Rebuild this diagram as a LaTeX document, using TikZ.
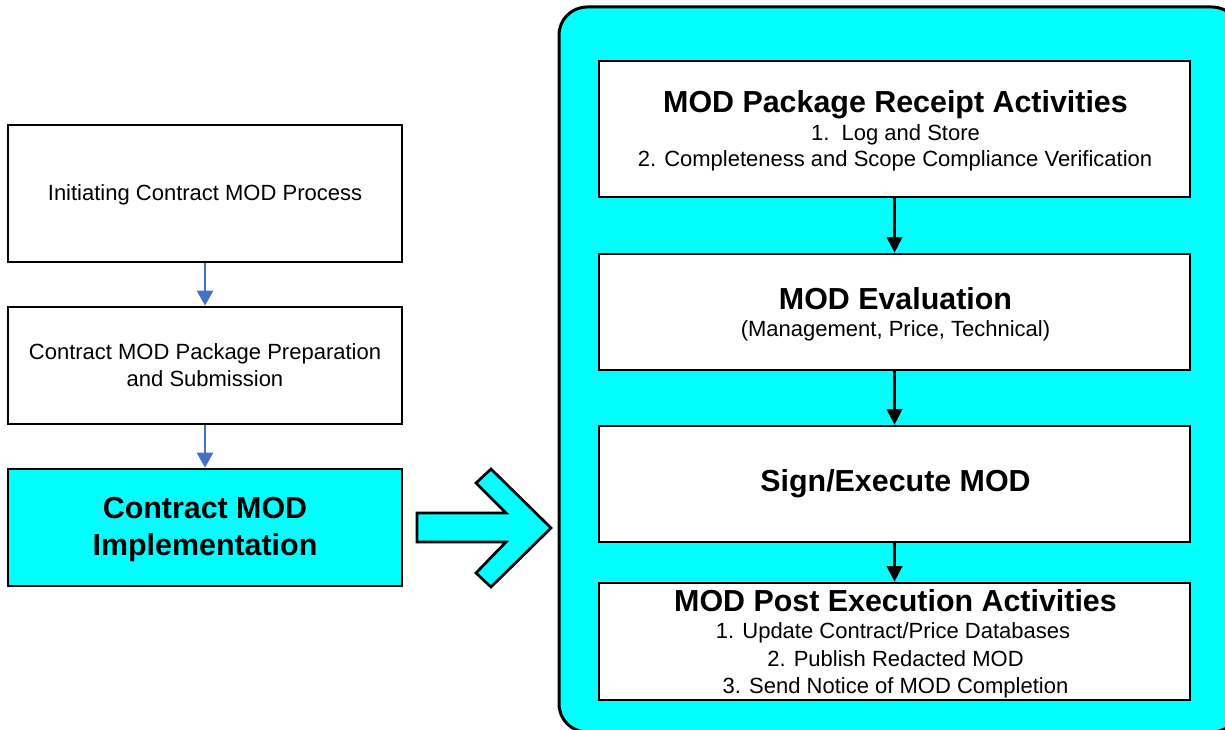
\documentclass[tikz,border=0pt]{standalone}
\usepackage{fontspec}
\setmainfont{Liberation Sans}
\usetikzlibrary{arrows.meta}
\definecolor{aqua}{RGB}{0,255,255}
\definecolor{bluearrow}{RGB}{68,114,196}
\begin{document}
\begin{tikzpicture}[x=1pt,y=-1pt,
  lbox/.style={draw=black,line width=2.7pt,minimum width=394pt,inner sep=0pt,fill=white},
  rbox/.style={draw=black,line width=2.7pt,minimum width=591pt,inner sep=0pt,fill=white},
  panelbox/.style={draw=black,line width=3pt,fill=aqua,rounded corners=28pt,inner sep=0pt,minimum width=681pt,minimum height=725pt},
  reg/.style={anchor=base,inner sep=0pt,font=\fontsize{22}{26}\selectfont},
  bld/.style={anchor=base,inner sep=0pt,font=\fontsize{30.4}{36}\selectfont\bfseries},
  bluearr/.style={draw=bluearrow,line width=2.8pt,-{Triangle[length=15pt,width=16pt]}},
  blackarr/.style={draw=black,line width=2.2pt,-{Triangle[length=15.5pt,width=15.5pt]}},
  bigarrow/.style={draw=black,fill=aqua,line width=2.7pt,line join=miter}
]
\useasboundingbox (0,0) rectangle (1225,730);

% right panel
\node[panelbox] (P) at (899.5,369.5) {};

% left column boxes
\node[lbox,minimum height=137pt] (L1) at (205,193.5) {};
\node[lbox,minimum height=117pt] (L2) at (205,365.5) {};
\node[lbox,minimum height=117pt,fill=aqua] (L3) at (205,527.5) {};

\node[reg] (t1) at (205,200.7) {Initiating Contract MOD Process};
\node[reg] (t2a) at (205,359.3) {Contract MOD Package Preparation};
\node[reg] (t2b) at (205,386) {and Submission};
\node[bld] (t3a) at (205,518.3) {Contract MOD};
\node[bld] (t3b) at (205,555) {Implementation};

\draw[bluearr] (L1.south) -- (L2.north);
\draw[bluearr] (L2.south) -- (L3.north);

% right boxes
\node[rbox,minimum height=136pt] (A) at (894.5,129) {};
\node[rbox,minimum height=116pt] (B) at (894.5,312) {};
\node[rbox,minimum height=116pt] (C) at (894.5,484) {};
\node[rbox,minimum height=117pt] (D) at (894.5,641.5) {};

\node[bld] (ta) at (895.5,112.7) {MOD Package Receipt Activities};
\node[reg] (ta1) at (895.5,140.7) {1.\ \ Log and Store};
\node[reg] (ta2) at (895,166.7) {2. Completeness and Scope Compliance Verification};

\node[bld] (tb) at (895.5,309.3) {MOD Evaluation};
\node[reg] (tb1) at (895.5,336.7) {(Management, Price, Technical)};

\node[bld] (tc) at (895.5,491.7) {Sign/Execute MOD};

\node[bld] (td) at (895.5,611) {MOD Post Execution Activities};
\node[reg] (td1) at (893,638.3) {1. Update Contract/Price Databases};
\node[reg] (td2) at (895.5,666) {2. Publish Redacted MOD};
\node[reg] (td3) at (895.5,693.3) {3. Send Notice of MOD Completion};

\draw[blackarr] (A.south) -- (B.north);
\draw[blackarr] (B.south) -- (C.north);
\draw[blackarr] (C.south) -- (D.north);

% big arrow
\draw[bigarrow] (417,513) -- (506,513) -- (476,483) -- (491,469) -- (551,528)
  -- (491,587) -- (476,573) -- (506,542) -- (417,542) -- cycle;
\end{tikzpicture}
\end{document}
